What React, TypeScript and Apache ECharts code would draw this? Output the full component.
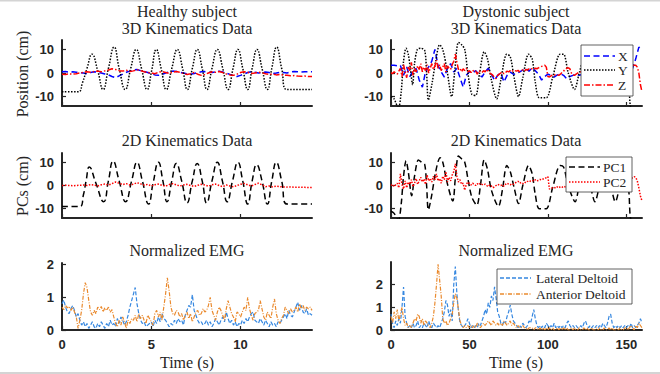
import React, { useEffect, useRef } from "react";
import * as echarts from "echarts";

// ---------- axis settings ----------
const healthyTimeMax = 14;
const dystonicTimeMax = 160;
const healthyTimeTicks = [0, 5, 10];
const dystonicTimeTicks = [0, 50, 100, 150];
const kinematicTicks = [-10, 0, 10];
const emgTicks = [0, 1, 2];

// ---------- texts ----------
const columnTitles = ["Healthy subject", "Dystonic subject"];
const rowTitles = ["3D Kinematics Data", "2D Kinematics Data", "Normalized EMG"];
const yNames = ["Position (cm)", "PCs (cm)"];
const xName = "Time (s)";

// ---------- healthy subject (t: 0..14 s) ----------
const healthyY = [
  [0, -8], [0.9, -8], [1.15, -4], [1.4, 2], [1.68, 8], [2.0, 1], [2.3, -7], [2.6, 2], [2.92, 11], [3.2, 2],
  [3.54, -7], [3.85, 2], [4.16, 10], [4.45, 2], [4.77, -7], [5.02, 1], [5.28, 10], [5.55, 2], [5.84, -7], [6.15, 2],
  [6.46, 10], [6.75, 2], [7.02, -7], [7.3, 2], [7.58, 10], [7.85, 2], [8.12, -7], [8.4, 2], [8.7, 10], [9.0, 2],
  [9.3, -7], [9.58, 2], [9.85, 10], [10.12, 2], [10.4, -7], [10.65, 2], [10.92, 10], [11.2, 2], [11.5, -7], [11.75, 2],
  [12.02, 11], [12.3, 2], [12.6, -7], [14, -7],
];
const healthyX = [
  0.5, 0.6, 0.4, 0.5, 0.3, 0.2, 0.0, -0.3, 0.2, 0.5, 0.3, 0.0, -0.4, -0.8, -1.5, -2.0, -1.2, -0.5, 0.3, 0.8,
  1.2, 1.5, 1.0, 0.6, 0.2, -0.3, -0.8, -1.0, -0.6, 0.0, 0.5, 0.8, 0.6, 0.3, 0.0, -0.3, -0.5, -0.2, 0.2, 0.5,
  0.6, 0.4, 0.2, 0.5, 0.8, 0.4, 0.0, -0.6, -1.2, -1.5, -1.0, -0.4, 0.2, 0.5, 0.3, 0.0, 0.2, 0.4, 0.2, -0.2,
  0.0, 0.3, 0.2, 0.0, 0.4, 0.6, 0.5, 0.4, 0.5, 0.6, 0.5,
];
const healthyZ = [
  -0.5, -0.6, -0.4, -0.5, -0.3, 0.0, 0.3, 0.5, 0.3, 0.6, 0.8, 0.5, 0.9, 1.3, 1.8, 1.5, 1.0, 0.8, 1.2, 0.6,
  0.9, 1.4, 1.0, 0.5, 0.2, 0.0, -0.3, 0.3, 0.6, 0.2, -0.2, 0.4, 0.6, 0.3, -0.2, -0.6, -0.3, 0.2, -0.5, -1.0,
  -0.6, 0.0, 0.5, 0.3, 0.6, 0.2, -0.4, -0.8, -1.0, -0.5, 0.2, 0.5, 0.3, -0.2, 0.0, 0.3, 0.1, -0.3, -0.6, -0.4,
  -0.8, -0.6, -0.9, -1.0, -1.2, -1.1, -1.3, -1.4, -1.3, -1.5, -1.5,
];
const healthyPC1 = [
  [0, -9], [1.0, -9], [1.2, -4], [1.35, 2], [1.53, 8], [1.9, 1], [2.33, -7], [2.6, 2], [2.86, 10.5], [3.2, 2],
  [3.56, -7], [3.9, 2], [4.2, 10], [4.5, 2], [4.85, -8], [5.1, 1], [5.4, 10], [5.65, 2], [5.88, -7], [6.15, 2],
  [6.4, 9.5], [6.7, 2], [7.0, -7.5], [7.3, 2], [7.57, 9.5], [7.85, 2], [8.1, -7.5], [8.4, 2], [8.7, 10], [8.98, 2],
  [9.25, -7], [9.55, 2], [9.85, 10], [10.12, 2], [10.4, -8], [10.65, 2], [10.9, 9], [11.2, 2], [11.5, -8], [11.75, 2],
  [12.0, 10], [12.3, 2], [12.6, -8], [14, -8],
];
const healthyPC2 = [
  0.0, 0.1, 0.0, -0.1, 0.0, 0.1, 0.2, 0.0, 0.4, 0.2, -0.2, 0.3, 0.6, 0.2, 0.8, 1.5, 1.0, 0.4, 0.8, 0.2,
  0.6, 1.2, 0.7, 0.2, 0.5, -0.2, 0.3, 0.6, 0.1, -0.3, 0.4, 0.8, 0.3, -0.2, 0.2, 0.5, 0.0, -0.4, 0.1, 0.5,
  0.2, -0.3, 0.3, 0.6, 0.0, -0.5, 0.2, -0.2, -0.6, 0.0, 0.5, 0.9, 0.3, -0.2, 0.4, 1.0, 0.3, -0.5, -0.2, -0.6,
  -0.3, -0.5, -0.6, -0.7, -0.6, -0.8, -0.7, -0.8, -0.8, -0.9, -0.8,
];
const healthyEmgLateral = [
  0.80, 0.92, 0.70, 0.55, 0.50, 0.65, 0.75, 0.60, 0.40, 0.50,
  0.30, 0.15, 0.25, 0.10, 0.20, 0.05, 0.15, 0.25, 0.10, 0.05,
  0.20, 0.10, 0.25, 0.15, 0.05, 0.20, 0.10, 0.30, 0.15, 0.20,
  0.10, 0.35, 0.20, 0.40, 0.30, 0.15, 0.25, 0.45, 0.70, 0.90,
  1.10, 1.30, 0.80, 0.50, 0.30, 0.20, 0.25, 0.10, 0.15, 0.20,
  0.25, 0.10, 0.30, 0.20, 0.40, 0.25, 0.50, 0.35, 0.30, 0.20,
  0.10, 0.20, 0.15, 0.30, 0.20, 0.35, 0.25, 0.30, 0.15, 0.45,
  0.60, 0.75, 0.70, 1.08, 0.60, 0.45, 0.30, 0.20, 0.25, 0.15,
  0.20, 0.30, 0.15, 0.25, 0.10, 0.20, 0.35, 0.25, 0.15, 0.30,
  0.40, 0.25, 0.55, 0.35, 0.20, 0.30, 0.15, 0.25, 0.10, 0.20,
  0.15, 0.30, 0.20, 0.35, 0.25, 0.40, 0.50, 0.55, 0.30, 0.25,
  0.20, 0.35, 0.25, 0.15, 0.30, 0.20, 0.10, 0.25, 0.15, 0.20,
  0.10, 0.25, 0.20, 0.30, 0.40, 0.50, 0.35, 0.60, 0.45, 0.40,
  0.55, 0.70, 0.85, 0.60, 0.75, 0.55, 0.50, 0.65, 0.45, 0.50, 0.45,
];
const healthyEmgAnterior = [
  0.70, 0.62, 0.75, 0.68, 0.72, 0.60, 0.70, 0.55, 0.40,
  0.05, 0.30, 0.60, 1.10, 1.45, 1.30, 0.90, 0.55, 0.45, 0.60, 0.50,
  0.70, 0.62, 0.72, 0.55, 0.68, 0.60, 0.70, 0.55, 0.62, 0.40,
  0.20, 0.10, 0.30, 0.15, 0.40, 0.25, 0.05, 0.30, 0.20, 0.35,
  0.30, 0.45, 0.25, 0.50, 0.35, 0.45, 0.30, 0.20, 0.45, 0.35,
  0.25, 0.15, 0.50, 0.60, 0.40, 0.55, 0.30, 0.70, 1.10, 1.60,
  1.20, 0.70, 0.50, 0.45, 0.60, 0.55, 0.40, 0.50, 0.30, 0.45,
  0.55, 0.35, 0.50, 0.25, 0.40, 0.55, 0.60, 0.45, 0.50, 0.65,
  0.55, 0.60, 0.75, 1.00, 0.60, 0.45, 0.30, 0.55, 0.70, 0.60,
  0.45, 0.30, 0.65, 0.90, 0.70, 0.50, 0.40, 0.25, 0.55, 0.50,
  0.40, 0.55, 0.70, 0.60, 1.00, 0.65, 0.45, 0.30, 0.50, 0.55,
  0.60, 0.90, 0.65, 0.40, 0.30, 0.55, 0.45, 0.35, 0.70, 0.95,
  0.50, 0.30, 0.20, 0.35, 0.45, 0.70, 0.60, 0.50, 0.65, 0.55,
  0.60, 0.70, 0.55, 0.80, 0.65, 0.75, 0.60, 0.70, 0.65, 0.70, 0.60,
];

// ---------- dystonic subject (t: 0..160 s) ----------
const dystonicY = [
  [0, -10], [2, -11], [4.7, -15], [6.5, -8], [8, 5], [9.6, 10.5], [11, 8], [12.3, 2], [13.8, -5], [15, 4],
  [16.8, 10], [19, 10.5], [21.5, 9.5], [22.7, 0], [23.8, -11.5], [26, -5], [28.5, 5], [31, 12], [33, 10], [35.5, 2],
  [38.7, -10], [40.5, 0], [43, 13], [45, 12], [47, 10], [49, 0], [51.5, -9], [54, -9.5], [56.5, 0], [59.4, 9],
  [61.5, 6], [64, -3], [67.4, -11], [70, -3], [73.8, 8], [76, 7], [78.5, -2], [81.3, -10], [84, -2], [87.7, 8],
  [90, 6], [92, -4], [94.5, -10.5], [99, -10.5], [103, -2], [107.8, 8], [110, 8], [113, 0], [117, -7], [120, 0],
  [123.5, 7], [127, 0], [130, -7], [133, 0], [136.5, 7], [140, 0], [143, -7], [146, 0], [149, 6], [151.5, -2],
  [153.5, -15], [160, -15],
];
const dystonicX = [
  3.3, 3.3, 3.0, 3.2, -1.0, 2.5, -1.5, 1.0, 1.9, -3.0,
  -6.0, 0.5, 2.6, 5.0, 10.0, 3.0, 0.5, -1.7, 2.0, 4.0,
  0.4, 2.0, -2.0, -6.0, -1.0, 0.5, 0.0, 1.0, -0.5, -1.7,
  0.5, 2.0, -0.5, -3.1, -1.0, 0.0, -3.8, -1.0, 0.4, -0.5,
  -0.3, 0.5, 1.2, 1.9, 0.8, 2.2, 1.0, -0.5, -3.0, -1.5,
  -0.5, -1.0, -1.7, -0.8, -0.3, -1.0, -2.4, -1.5, -1.0, -0.5,
  -1.0, -0.5, 0.0, -0.8, -0.3, 0.0, -0.5, 0.2, -0.3, 0.0,
  0.3, -0.2, 0.0, 0.5, 0.2, 0.5, 1.0, 2.0, 6.0, 11.0, 10.0,
];
const dystonicZ = [
  0.2, -0.3, 0.5, 0.0, -0.5, 0.8, 2.0, -1.5, 3.5, 0.5,
  -2.0, 2.5, 1.0, 4.5, -1.0, 2.0, 0.5, 3.0, 1.5, 4.0,
  0.5, 2.5, 1.0, 3.5, 0.0, 2.0, 4.0, 1.5, 3.0, 5.5,
  2.0, 3.5, 1.0, 2.5, 4.0, 0.5, 3.0, 2.0, 1.5, 3.5,
  5.0, 8.0, 4.5, 1.5, 2.0, 0.5, 1.8, 1.0, 2.0, 0.5,
  1.0, 0.2, 1.2, 0.5, 0.8, -0.5, 1.0, 0.5, 0.2, 1.0,
  0.5, 1.5, 0.8, 0.0, -0.5, -1.0, -2.0, -2.4, -1.0, -0.5,
  0.0, 0.5, -0.3, 0.2, 0.8, 0.5, 1.0, 0.5, 1.2, 1.0,
  0.8, 1.1, 0.5, 1.0, 1.3, 0.8, 1.5, 1.2, 1.8, 1.5,
  1.9, 1.5, 2.0, 1.8, 2.2, 2.5, 2.8, 3.0, 3.3, 2.5,
  -1.5, -1.7, -1.2, -0.8, -1.0, -0.5, -0.8, -1.0, -0.5, 0.2,
  0.8, 1.5, 2.0, 2.2, 1.8, 0.0, -0.8, -1.0, -0.5, 0.0,
  0.3, 0.5, 0.2, 0.8, 0.5, 1.0, 0.6, 0.3, 0.8, 0.5,
  1.0, 0.7, 0.5, 1.2, 0.8, 1.0, 0.6, 1.3, 1.0, 0.8,
  1.2, 1.5, 1.0, 1.4, 1.8, 1.5, 2.0, 1.7, 2.2, 2.5,
  2.8, 3.0, 2.5, 3.0, 3.2, 3.3, 3.3, 2.5, 0.0, -5.0, -8.0,
];
const dystonicPC1 = [
  [0, -11], [2, -12], [4.7, -15], [6.5, -8], [8, 4], [9.6, 10.7], [11, 6], [13.2, -4.4], [15, 4], [17.5, 11],
  [19.5, 10], [21.5, 9], [22.7, 0], [23.8, -10.5], [26, -4], [28.5, 6], [31.3, 12], [33, 10], [35.5, 2], [39.4, -6.7],
  [41, 3], [43, 12.7], [45, 11.5], [47, 10], [49, 3], [51.5, -5], [54.7, -8.5], [57, 0], [59.4, 11], [61.5, 7],
  [64, -2], [68.5, -9], [71, -2], [73.8, 8.6], [76, 6], [78.5, -1], [81.3, -7.8], [84, 0], [87.7, 8.6], [90, 5],
  [92, -4], [94.5, -10], [99, -10], [103, -1], [107.8, 8.6], [110, 8], [113, 0], [117.4, -7], [120, 0], [123.5, 7],
  [127, 0], [130, -7], [133, 0], [136.5, 7], [140, 0], [143, -7], [146, 0], [149, 6], [151.5, -2], [153.6, -15],
  [160, -15],
];
const dystonicPC2 = [
  0.0, 0.5, -0.5, 0.3, 1.0, -1.0, 5.0, 0.5, -1.5, 2.0,
  -1.0, 1.5, 0.5, 2.5, -0.5, 1.0, 3.0, 0.5, 2.0, 3.5,
  1.5, 2.8, 0.5, 4.5, 2.0, 3.0, 1.5, 4.0, 2.5, 5.0,
  2.0, 3.0, 1.0, 4.0, 2.5, 6.0, 1.5, 3.5, 2.0, 4.5,
  6.0, 9.3, 4.0, 1.5, 2.5, 0.5, 1.0, -2.0, 0.5, 1.5,
  0.8, 0.2, 1.0, 0.5, 0.0, 0.8, 0.3, 1.0, 0.5, 0.2,
  0.6, 0.0, -0.5, 0.3, -0.2, -1.0, -0.5, 0.0, 0.5, 0.2,
  0.0, 0.4, -0.3, 0.5, 1.0, 0.6, 0.3, 0.8, 0.5, 1.0,
  1.5, 1.8, 1.0, 1.3, 0.8, 1.5, 1.2, 1.8, 1.5, 2.0,
  2.2, 1.8, 2.5, 2.0, 2.2, 2.6, 2.4, 2.8, 3.0, 3.4,
  3.8, -1.6, -1.2, -1.0, -0.8, -1.2, -0.6, -1.0, -0.5, -0.8,
  -0.3, -0.6, 0.0, -0.4, 0.2, -0.5, -0.2, 0.0, -0.6, -0.3,
  0.0, -0.4, 0.2, -0.2, 0.3, 0.0, 0.5, 0.2, -0.2, 0.4,
  0.0, 0.5, 0.2, -0.3, 0.3, 0.6, 0.0, 0.4, 0.2, 0.5,
  0.3, 0.0, 0.5, 0.8, 0.4, 0.2, 0.6, 0.3, 0.7, 0.5,
  1.0, 0.8, 1.5, 2.5, 3.5, 3.8, 3.5, 2.0, -1.0, -4.5, -6.7,
];
const dystonicEmgLateral = [
  0.7, 0.3, 0.1, 0.4, 0.2, 0.5, 0.3, 1.0, 1.9, 0.6,
  0.3, 0.1, 0.2, 0.1, 0.3, 0.1, 0.2, 0.4, 0.1, 0.2,
  0.1, 0.3, 0.2, 0.1, 0.4, 0.2, 0.1, 0.3, 0.2, 0.1,
  0.2, 0.1, 0.3, 0.5, 0.8, 1.3, 1.1, 0.6, 0.9, 0.4,
  2.0, 2.8, 1.6, 0.8, 0.3, 0.2, 0.1, 0.2, 0.3, 0.5,
  0.3, 0.1, 0.2, 0.1, 0.2, 0.1, 0.3, 0.2, 0.4, 0.6,
  0.9, 0.7, 1.2, 1.0, 1.5, 1.3, 1.9, 1.4, 0.8, 0.6,
  0.3, 0.2, 0.4, 0.3, 0.6, 0.8, 1.1, 0.7, 0.4, 0.3,
  0.2, 0.1, 0.2, 0.1, 0.3, 0.2, 0.1, 0.2, 0.4, 0.3,
  0.6, 0.9, 0.5, 0.2, 0.1, 0.2, 0.1, 0.2, 0.1, 0.3,
  0.2, 0.1, 0.2, 0.1, 0.3, 0.1, 0.2, 0.1, 0.2, 0.1,
  0.2, 0.1, 0.3, 0.4, 0.2, 0.1, 0.2, 0.1, 0.2, 0.1,
  0.1, 0.2, 0.1, 0.3, 0.4, 0.2, 0.1, 0.2, 0.1, 0.2,
  0.1, 0.2, 0.1, 0.2, 0.1, 0.3, 0.2, 0.1, 0.3, 0.6,
  0.7, 0.3, 0.1, 0.2, 0.1, 0.2, 0.1, 0.2, 0.1, 0.2,
  0.1, 0.2, 0.1, 0.3, 0.1, 0.2, 0.1, 0.2, 0.3, 0.5, 0.3,
];
const dystonicEmgAnterior = [
  0.6, 0.3, 0.8, 0.5, 0.9, 0.4, 0.7, 1.0, 0.5, 0.2,
  0.3, 0.1, 0.2, 0.1, 0.3, 0.5, 0.4, 0.7, 0.6, 0.3,
  0.5, 0.2, 0.4, 0.3, 0.2, 0.1, 0.3, 0.6, 1.2, 2.0,
  2.9, 2.2, 1.5, 0.5, 0.3, 0.4, 0.2, 0.3, 0.5, 0.7,
  1.2, 1.6, 1.4, 0.9, 0.4, 0.2, 0.1, 0.2, 0.1, 0.2,
  0.1, 0.2, 0.1, 0.2, 0.1, 0.3, 0.2, 0.1, 0.2, 0.3,
  0.2, 0.3, 0.4, 0.3, 0.2, 0.4, 0.3, 0.2, 0.3, 0.2,
  0.3, 0.2, 0.4, 0.3, 0.2, 0.3, 0.4, 0.2, 0.3, 0.2,
  0.1, 0.2, 0.1, 0.1, 0.2, 0.1, 0.1, 0.0, 0.1, 0.1,
  0.1, 0.0, 0.1, 0.1, 0.0, 0.1, 0.0, 0.1, 0.0, 0.1,
  0.0, 0.1, 0.0, 0.1, 0.0, 0.0, 0.1, 0.0, 0.1, 0.0,
  0.1, 0.0, 0.1, 0.0, 0.0, 0.1, 0.0, 0.1, 0.0, 0.0,
  0.1, 0.0, 0.0, 0.1, 0.0, 0.1, 0.0, 0.0, 0.1, 0.0,
  0.0, 0.1, 0.0, 0.1, 0.0, 0.0, 0.1, 0.0, 0.0, 0.1,
  0.0, 0.1, 0.0, 0.0, 0.1, 0.0, 0.1, 0.0, 0.0, 0.1,
  0.1, 0.0, 0.1, 0.2, 0.1, 0.0, 0.2, 0.1, 0.3, 0.2, 0.1,
];

// ---------- styles ----------
const INK = "#262626";
const SERIF = '"Liberation Serif", "Times New Roman", serif';
const SANS = '"Liberation Sans", Arial, sans-serif';
const C_BLUE = "#0000ff";
const C_RED = "#ff0000";
const C_BLACK = "#000000";
const C_EMG_BLUE = "#3587e0";
const C_EMG_ORANGE = "#ea8a2e";
const DASH = [6, 3.5];
const DOT = [1.5, 1.5];
const DASHDOT = [6, 2, 1.5, 2];
const EMG_DASH = [4, 2];
const EMG_DASHDOT = [4, 1.5, 1, 1.5];

const spread = (vals: number[], tMax: number) =>
  vals.map((v, i) => [(i * tMax) / (vals.length - 1), v]);

export default function App() {
  const ref = useRef<HTMLDivElement>(null);

  useEffect(() => {
    if (!ref.current) return;
    const chart = echarts.init(ref.current, null, { renderer: "svg" });

    const grids = [
      { left: 62, top: 40, width: 250, height: 66 },
      { left: 391, top: 40, width: 251, height: 66 },
      { left: 62, top: 153, width: 250, height: 65 },
      { left: 391, top: 153, width: 251, height: 65 },
      { left: 62, top: 263, width: 250, height: 67 },
      { left: 391, top: 262, width: 251, height: 68 },
    ];

    const axisLine = { show: true, onZero: false, lineStyle: { color: INK, width: 2 } };
    const labelStyle = { fontFamily: SANS, fontWeight: "bold", fontSize: 13, color: INK };

    const mkX = (gi: number, healthy: boolean, showLabels: boolean) => ({
      type: "value",
      gridIndex: gi,
      min: 0,
      max: healthy ? healthyTimeMax : dystonicTimeMax,
      axisLine,
      axisTick: {
        show: true,
        inside: true,
        length: 4,
        lineStyle: { color: INK, width: 1.2 },
        customValues: healthy ? healthyTimeTicks : dystonicTimeTicks,
      },
      axisLabel: {
        show: showLabels,
        ...labelStyle,
        margin: 8,
        customValues: healthy ? healthyTimeTicks : dystonicTimeTicks,
      },
      splitLine: { show: false },
    });

    const mkY = (gi: number, min: number, max: number, ticks: number[]) => ({
      type: "value",
      gridIndex: gi,
      min,
      max,
      axisLine,
      axisTick: { show: true, inside: true, length: 4, lineStyle: { color: INK, width: 1.2 }, customValues: ticks },
      axisLabel: { show: true, ...labelStyle, margin: 8, customValues: ticks },
      splitLine: { show: false },
    });

    const line = (
      name: string,
      gi: number,
      data: number[][],
      color: string,
      type: number[],
      width: number,
      smooth: number | boolean = false
    ) => ({
      type: "line",
      name,
      xAxisIndex: gi,
      yAxisIndex: gi,
      data,
      showSymbol: false,
      symbol: "none",
      smooth,
      clip: true,
      lineStyle: { color, type, width },
      itemStyle: { color },
      emphasis: { disabled: true },
    });

    const series = [
      line("X", 0, spread(healthyX, healthyTimeMax), C_BLUE, DASH, 1.5),
      line("Y", 0, healthyY, C_BLACK, DOT, 1.5, 0.5),
      line("Z", 0, spread(healthyZ, healthyTimeMax), C_RED, DASHDOT, 1.5),
      line("X", 1, spread(dystonicX, dystonicTimeMax), C_BLUE, DASH, 1.5),
      line("Y", 1, dystonicY, C_BLACK, DOT, 1.5, 0.3),
      line("Z", 1, spread(dystonicZ, dystonicTimeMax), C_RED, DASHDOT, 1.5),
      line("PC1", 2, healthyPC1, C_BLACK, DASH, 1.5, 0.5),
      line("PC2", 2, spread(healthyPC2, healthyTimeMax), C_RED, DOT, 1.5),
      line("PC1", 3, dystonicPC1, C_BLACK, DASH, 1.5, 0.3),
      line("PC2", 3, spread(dystonicPC2, dystonicTimeMax), C_RED, DOT, 1.5),
      line("Lateral Deltoid", 4, spread(healthyEmgLateral, healthyTimeMax), C_EMG_BLUE, EMG_DASH, 1.2),
      line("Anterior Deltoid", 4, spread(healthyEmgAnterior, healthyTimeMax), C_EMG_ORANGE, EMG_DASHDOT, 1.2),
      line("Lateral Deltoid", 5, spread(dystonicEmgLateral, dystonicTimeMax), C_EMG_BLUE, EMG_DASH, 1.2),
      line("Anterior Deltoid", 5, spread(dystonicEmgAnterior, dystonicTimeMax), C_EMG_ORANGE, EMG_DASHDOT, 1.2),
    ];

    const txt = (x: number, y: number, text: string, size: number, extra: any = {}) => ({
      type: "text",
      x,
      y,
      z: 50,
      silent: true,
      ...extra,
      style: {
        text,
        fontFamily: SERIF,
        fontSize: size,
        fill: INK,
        align: "center",
        verticalAlign: "middle",
      },
    });

    const legendBox = (
      x: number,
      y: number,
      w: number,
      h: number,
      items: { label: string; color: string; dash: number[]; y: number }[],
      lineX0: number,
      lineX1: number,
      textX: number
    ) => ({
      type: "group",
      z: 100,
      silent: true,
      children: [
        {
          type: "rect",
          z: 100,
          shape: { x, y, width: w, height: h },
          style: { fill: "#ffffff", stroke: "#3a3a3a", lineWidth: 0.8 },
        },
        ...items.flatMap((it) => [
          {
            type: "line",
            z: 101,
            shape: { x1: lineX0, y1: it.y, x2: lineX1, y2: it.y },
            style: { stroke: it.color, lineWidth: 1.5, lineDash: it.dash },
          },
          {
            type: "text",
            z: 101,
            x: textX,
            y: it.y,
            style: {
              text: it.label,
              fontFamily: SERIF,
              fontSize: 13.5,
              fill: INK,
              align: "left",
              verticalAlign: "middle",
            },
          },
        ]),
      ],
    });

    const graphic = [
      { type: "rect", shape: { x: 0, y: 0, width: 660, height: 1.5 }, style: { fill: "#d4d4d4" }, silent: true },
      { type: "rect", shape: { x: 0, y: 372, width: 660, height: 2 }, style: { fill: "#d4d4d4" }, silent: true },
      txt(187, 11, columnTitles[0], 16),
      txt(516, 11, columnTitles[1], 16),
      txt(187, 28, rowTitles[0], 16),
      txt(516, 28, rowTitles[0], 16),
      txt(187, 140, rowTitles[1], 16),
      txt(516, 140, rowTitles[1], 16),
      txt(187, 250, rowTitles[2], 16),
      txt(516, 250, rowTitles[2], 16),
      txt(187, 362, xName, 16),
      txt(516, 362, xName, 16),
      txt(22, 74, yNames[0], 16, { rotation: Math.PI / 2 }),
      txt(22, 186, yNames[1], 16, { rotation: Math.PI / 2 }),
      legendBox(
        581, 45, 52, 51,
        [
          { label: "X", color: C_BLUE, dash: DASH, y: 56 },
          { label: "Y", color: C_BLACK, dash: DOT, y: 70 },
          { label: "Z", color: C_RED, dash: DASHDOT, y: 85 },
        ],
        584, 615, 618
      ),
      legendBox(
        566, 157, 66, 35,
        [
          { label: "PC1", color: C_BLACK, dash: DASH, y: 167 },
          { label: "PC2", color: C_RED, dash: DOT, y: 182 },
        ],
        569, 600, 603
      ),
      legendBox(
        497, 269, 135, 35,
        [
          { label: "Lateral Deltoid", color: C_EMG_BLUE, dash: EMG_DASH, y: 278 },
          { label: "Anterior Deltoid", color: C_EMG_ORANGE, dash: EMG_DASHDOT, y: 294 },
        ],
        500, 531, 536
      ),
    ];

    chart.setOption({
      animation: false,
      backgroundColor: "#ffffff",
      grid: grids,
      xAxis: [
        mkX(0, true, false),
        mkX(1, false, false),
        mkX(2, true, false),
        mkX(3, false, false),
        mkX(4, true, true),
        mkX(5, false, true),
      ],
      yAxis: [
        mkY(0, -14, 14, kinematicTicks),
        mkY(1, -14, 14, kinematicTicks),
        mkY(2, -14, 14, kinematicTicks),
        mkY(3, -14, 14, kinematicTicks),
        mkY(4, 0, 2.05, emgTicks),
        mkY(5, 0, 3, emgTicks),
      ],
      series,
      graphic,
    });

    return () => chart.dispose();
  }, []);

  return (
    <div
      ref={ref}
      style={{ position: "fixed", left: 0, top: 0, width: 660, height: 374, background: "#fff" }}
    />
  );
}
